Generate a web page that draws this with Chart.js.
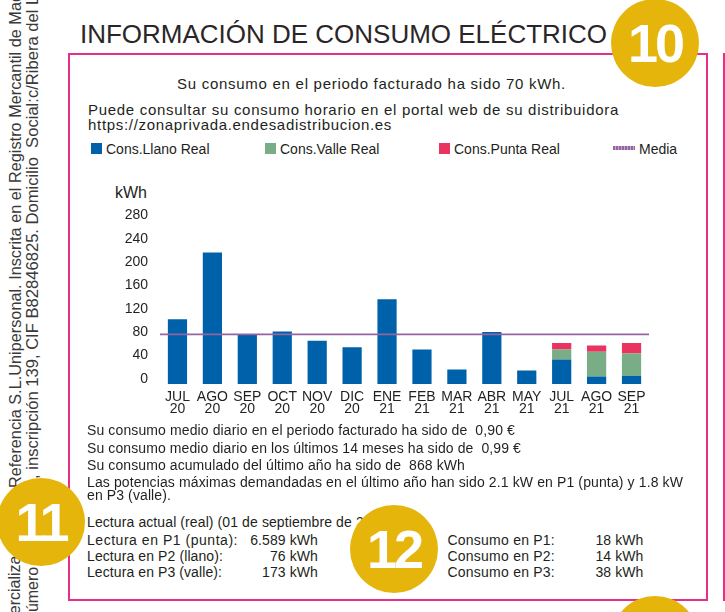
<!DOCTYPE html>
<html lang="es">
<head>
<meta charset="utf-8">
<title>Información de consumo eléctrico</title>
<script src="https://cdn.jsdelivr.net/npm/chart.js@4.4.1/dist/chart.umd.min.js"></script>
<style>
  html, body { margin: 0; padding: 0; }
  body {
    width: 725px; height: 612px; position: relative; overflow: hidden; background: #fff;
    font-family: "Liberation Sans", Arial, sans-serif; color: #231f20;
  }
  .t { position: absolute; white-space: nowrap; line-height: 1; }
  .s14 { font-size: 14px; letter-spacing: 0.1px; }
  .s15 { font-size: 15px; }
  .r { text-align: right; }
  .rot {
    position: absolute; transform-origin: 0 0; transform: rotate(-90deg);
    font-size: 16px; line-height: 16px; white-space: nowrap; color: #3a3a3a;
  }
  #box { position: absolute; left: 68px; top: 53px; width: 636px; height: 544px; border: 2px solid #e62e8b; }
  #nextCol { position: absolute; left: 723px; top: 53px; width: 2px; height: 548px; background: #e62e8b; }
  #chartWrap { position: absolute; left: 100px; top: 200px; width: 560px; height: 240px; }
  .legendItem { position: absolute; top: 141.5px; font-size: 14px; line-height: 1; white-space: nowrap; }
  .legendItem .sw { position: absolute; left: 0; top: 1px; width: 11px; height: 11px; }
  .legendItem .ln { position: absolute; left: 0; top: 4.5px; width: 22px; height: 4px; }
  .circle {
    position: absolute; width: 88px; height: 88px; border-radius: 50%; background: #e6b50c;
    color: #fff; font-weight: bold; font-size: 54px; line-height: 1;
    display: flex; align-items: center; justify-content: center; letter-spacing: -3px;
  }
</style>
</head>
<body>

<div class="rot" style="left:7px;top:648px">Comercializadora de</div>
<div class="rot" style="left:7px;top:488px;font-size:16.3px">Referencia S.L.Unipersonal. Inscrita en el Registro Mercantil de Madrid</div>
<div class="rot" style="left:25px;top:621px">número 1, hoja 142</div>
<div class="rot" style="left:25px;top:479px;font-size:16.6px">, inscripción 139, CIF B82846825. Domicilio&nbsp; Social:c/Ribera del Loira</div>

<div id="box"></div>
<div id="nextCol"></div>

<div class="t fit" data-w="527" style="left:80px;top:21px;font-size:26px;color:#2a2627">INFORMACIÓN DE CONSUMO ELÉCTRICO</div>

<div class="t s15 fit" data-w="389" style="left:177px;top:75.6px">Su consumo en el periodo facturado ha sido 70 kWh.</div>
<div class="t s15 fit" data-w="531" style="left:88px;top:102.3px">Puede consultar su consumo horario en el portal web de su distribuidora</div>
<div class="t s15 fit" data-w="304" style="left:88px;top:117.3px">https://zonaprivada.endesadistribucion.es</div>

<div id="legend"></div>

<div class="t" style="right:578px;top:184.5px;font-size:16px">kWh</div>

<div id="chartWrap"><canvas id="consumoChart"></canvas></div>

<div class="t s14 fit" data-w="428" style="left:87px;top:423.2px">Su consumo medio diario en el periodo facturado ha sido de&nbsp; 0,90 €</div>
<div class="t s14 fit" data-w="434" style="left:87px;top:440.5px">Su consumo medio diario en los últimos 14 meses ha sido de&nbsp; 0,99 €</div>
<div class="t s14 fit" data-w="378" style="left:87px;top:457.5px">Su consumo acumulado del último año ha sido de&nbsp; 868 kWh</div>
<div class="t s14 fit" data-w="596" style="left:87px;top:474.6px">Las potencias máximas demandadas en el último año han sido 2.1 kW en P1 (punta) y 1.8 kW</div>
<div class="t s14 fit" data-w="84" style="left:87px;top:488.2px">en P3 (valle).</div>

<div class="t s14" style="left:87px;top:514.9px">Lectura actual (real) (01 de septiembre de 2021)</div>
<div class="t s14 fit" data-w="151" style="left:87px;top:532.6px">Lectura en P1 (punta):</div>
<div class="t s14 fit" data-w="136" style="left:87px;top:549.2px">Lectura en P2 (llano):</div>
<div class="t s14 fit" data-w="135" style="left:87px;top:564.9px">Lectura en P3 (valle):</div>
<div class="t s14 r" style="right:407px;top:532.6px">6.589 kWh</div>
<div class="t s14 r" style="right:407px;top:549.2px">76 kWh</div>
<div class="t s14 r" style="right:407px;top:564.9px">173 kWh</div>

<div class="t s14 fit" data-w="107.5" style="left:447.5px;top:532.6px">Consumo en P1:</div>
<div class="t s14 fit" data-w="107.5" style="left:447.5px;top:549.2px">Consumo en P2:</div>
<div class="t s14 fit" data-w="107.5" style="left:447.5px;top:564.9px">Consumo en P3:</div>
<div class="t s14 r" style="right:81.5px;top:532.6px">18 kWh</div>
<div class="t s14 r" style="right:81.5px;top:549.2px">14 kWh</div>
<div class="t s14 r" style="right:81.5px;top:564.9px">38 kWh</div>

<div class="circle" style="left:611px;top:-1px">10</div>
<div class="circle" style="left:-3px;top:478px">11</div>
<div class="circle" style="left:350px;top:505px">12</div>
<div class="circle" style="left:611px;top:596px"></div>

<script>
  // valores (kWh por mes)
  const monthLabels = [
    ['JUL', '20'], ['AGO', '20'], ['SEP', '20'], ['OCT', '20'], ['NOV', '20'], ['DIC', '20'], ['ENE', '21'],
    ['FEB', '21'], ['MAR', '21'], ['ABR', '21'], ['MAY', '21'], ['JUL', '21'], ['AGO', '21'], ['SEP', '21']
  ];
  const consLlano = [111, 225, 84, 90, 74, 63, 145, 59, 25, 89, 23, 42, 13, 14];
  const consValle = [null, null, null, null, null, null, null, null, null, null, null, 17, 42, 38];
  const consPunta = [null, null, null, null, null, null, null, null, null, null, null, 11, 11, 18];
  const mediaValue = 85;
  const yMax = 280;
  const yStep = 40;

  const colorMap = {
    llano: '#0061ab',
    valle: '#79ad85',
    punta: '#e9345f',
    media: '#95659f'
  };
  const textColor = '#231f20';

  Chart.defaults.font.family = "'Liberation Sans', Arial, sans-serif";

  const barDatasets = [
    { label: 'Cons.Llano Real', data: consLlano, backgroundColor: colorMap.llano },
    { label: 'Cons.Valle Real', data: consValle, backgroundColor: colorMap.valle },
    { label: 'Cons.Punta Real', data: consPunta, backgroundColor: colorMap.punta }
  ].map(ds => ({
    ...ds, type: 'bar', stack: 'consumo', grouped: false, order: 1,
    barPercentage: 0.55, categoryPercentage: 1, borderWidth: 0
  }));

  const mediaDataset = {
    type: 'line',
    label: 'Media',
    xAxisID: 'xMedia',
    stack: 'media',
    order: 0,
    data: [{ x: -0.5, y: mediaValue }, { x: monthLabels.length - 0.5, y: mediaValue }],
    borderColor: colorMap.media,
    borderWidth: 1.6,
    pointRadius: 0,
    fill: false
  };

  // leyenda propia, repartida a lo ancho como en la factura
  const legendEl = document.getElementById('legend');
  [...barDatasets, mediaDataset].forEach((ds, i) => {
    const item = document.createElement('div');
    item.className = 'legendItem';
    item.style.left = (91 + i * 174) + 'px';
    const mark = document.createElement('span');
    if (ds.type === 'line') {
      mark.className = 'ln';
      mark.style.background = `repeating-linear-gradient(90deg, ${ds.borderColor} 0 2px, #c3a6cb 2px 3px)`;
      item.style.paddingLeft = '26px';
    } else {
      mark.className = 'sw';
      mark.style.background = ds.backgroundColor;
      item.style.paddingLeft = '15px';
    }
    item.appendChild(mark);
    item.appendChild(document.createTextNode(ds.label));
    legendEl.appendChild(item);
  });

  const ctx = document.getElementById('consumoChart').getContext('2d');
  new Chart(ctx, {
    type: 'bar',
    data: { labels: monthLabels, datasets: [mediaDataset, ...barDatasets] },
    options: {
      responsive: true,
      maintainAspectRatio: false,
      animation: false,
      layout: { padding: { top: 20, right: 11, left: 0, bottom: 0 } },
      plugins: {
        legend: { display: false },
        tooltip: { enabled: false }
      },
      scales: {
        x: {
          stacked: true,
          offset: true,
          grid: { display: false, drawTicks: false },
          border: { display: false },
          ticks: {
            color: textColor,
            font: { size: 14, lineHeight: 0.86 },
            padding: 7,
            maxRotation: 0,
            autoSkip: false
          },
          afterFit: scale => { scale.height = 56; }
        },
        xMedia: { type: 'linear', display: false, offset: false, min: -0.5, max: monthLabels.length - 0.5 },
        y: {
          stacked: true,
          min: 0,
          max: yMax,
          grid: { display: false, drawTicks: false },
          border: { display: false },
          ticks: {
            stepSize: yStep,
            color: textColor,
            font: { size: 14 },
            padding: 12,
            labelOffset: -5
          },
          afterFit: scale => { scale.width = 60; }
        }
      }
    }
  });

  // ajustar el espaciado de letras para que cada línea ocupe lo mismo que en el original
  document.querySelectorAll('.fit').forEach(el => {
    const target = parseFloat(el.dataset.w);
    el.style.letterSpacing = '0px';
    const natural = el.getBoundingClientRect().width;
    const n = el.textContent.length;
    el.style.letterSpacing = ((target - natural) / n).toFixed(3) + 'px';
  });
</script>
</body>
</html>
